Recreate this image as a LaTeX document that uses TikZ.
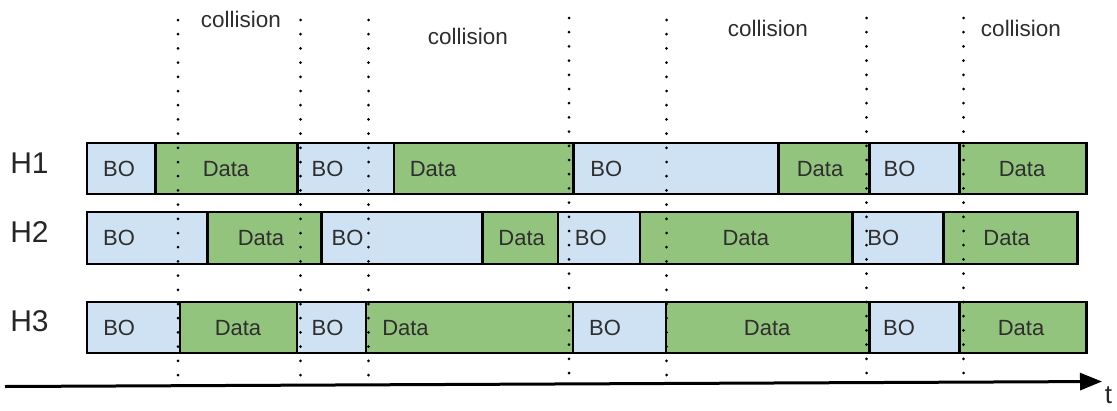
\documentclass[tikz,border=0pt]{standalone}
\usepackage{fontspec}
\setmainfont{Liberation Sans}
\usetikzlibrary{arrows.meta}

\definecolor{boblue}{HTML}{CFE2F3}
\definecolor{datagreen}{HTML}{93C47D}
\definecolor{txtgray}{HTML}{2E2E2E}

\tikzset{every picture/.style={line width=2pt}}
\tikzset{
  bo/.style={draw=black, fill=boblue, line width=2.8pt},
  data/.style={draw=black, fill=datagreen, line width=2.8pt},
  slotline/.style={draw=black, line width=3pt, line cap=round, dash pattern=on 0pt off 14.2pt},
  boxtxt/.style={inner sep=0pt, text=txtgray, font=\fontsize{22}{26}\selectfont},
  coltxt/.style={inner sep=0pt, text=txtgray, font=\fontsize{22.5}{27}\selectfont},
  hosttxt/.style={inner sep=0pt, text=black!85, font=\fontsize{30}{35}\selectfont}
}

\begin{document}
\begin{tikzpicture}[x=1pt,y=1pt,yscale=-1,xscale=1]
\useasboundingbox (0,0) rectangle (1117,410);

%Row H1
\draw [bo] (87,143) rectangle (155.7,194) ;
\draw [data] (155.7,143) rectangle (297.7,194) ;
\draw [bo] (297.7,143) rectangle (394,194) ;
\draw [data] (394,143) rectangle (573.3,194) ;
\draw [bo] (573.3,143) rectangle (778.3,194) ;
\draw [data] (778.3,143) rectangle (869.7,194) ;
\draw [bo] (869.7,143) rectangle (959.3,194) ;
\draw [data] (959.3,143) rectangle (1086.3,194) ;

%Row H2
\draw [bo] (87,212) rectangle (207.7,264) ;
\draw [data] (207.7,212) rectangle (321.7,264) ;
\draw [bo] (321.7,212) rectangle (482.3,264) ;
\draw [data] (482.3,212) rectangle (558,264) ;
\draw [bo] (558,212) rectangle (640,264) ;
\draw [data] (640,212) rectangle (852.7,264) ;
\draw [bo] (852.7,212) rectangle (943.7,264) ;
\draw [data] (943.7,212) rectangle (1077.7,264) ;

%Row H3
\draw [bo] (87,302) rectangle (180,353) ;
\draw [data] (180,302) rectangle (297,353) ;
\draw [bo] (297,302) rectangle (366,353) ;
\draw [data] (366,302) rectangle (573,353) ;
\draw [bo] (573,302) rectangle (666,353) ;
\draw [data] (666,302) rectangle (869.7,353) ;
\draw [bo] (869.7,302) rectangle (959.3,353) ;
\draw [data] (959.3,302) rectangle (1086.3,353) ;

%Dotted slot lines
\coordinate (s1top) at (178,20) ;   \coordinate (s1bot) at (178,376) ;
\coordinate (s2top) at (300.5,20) ; \coordinate (s2bot) at (300.5,376) ;
\coordinate (s3top) at (368.5,20) ; \coordinate (s3bot) at (368.5,376) ;
\coordinate (s4top) at (569,18) ;   \coordinate (s4bot) at (569,374) ;
\coordinate (s5top) at (666.5,20) ; \coordinate (s5bot) at (666.5,376) ;
\coordinate (s6top) at (866.5,18) ; \coordinate (s6bot) at (866.5,374) ;
\coordinate (s7top) at (963.5,18) ; \coordinate (s7bot) at (963.5,374) ;
\draw [slotline] (s1top) -- (s1bot) ;
\draw [slotline] (s2top) -- (s2bot) ;
\draw [slotline] (s3top) -- (s3bot) ;
\draw [slotline] (s4top) -- (s4bot) ;
\draw [slotline] (s5top) -- (s5bot) ;
\draw [slotline] (s6top) -- (s6bot) ;
\draw [slotline] (s7top) -- (s7bot) ;

%Time axis
\coordinate (tstart) at (5,386.5) ;
\coordinate (tend) at (1102,381.5) ;
\draw [line width=3pt, -{Triangle[length=22pt,width=17pt]}] (tstart) -- (tend) ;
\node [inner sep=0pt, text=black!85, font=\fontsize{26}{30}\selectfont] (tlbl) at (1108.5,395) {t};

% Text Node
\node [hosttxt] (h1) at (29.5,163) {H1};
\node [hosttxt] (h2) at (29.5,232) {H2};
\node [hosttxt] (h3) at (29.5,321) {H3};

% Text Node
\node [coltxt] (col1) at (241,19) {collision};
\node [coltxt] (col2) at (468,36) {collision};
\node [coltxt] (col3) at (768,28) {collision};
\node [coltxt] (col4) at (1021,28) {collision};

% Text Node
\node [boxtxt] (h1bo1) at (119,169) {BO};
\node [boxtxt] (h1da1) at (226,169) {Data};
\node [boxtxt] (h1bo2) at (327.5,169) {BO};
\node [boxtxt] (h1da2) at (433,169) {Data};
\node [boxtxt] (h1bo3) at (606.3,169) {BO};
\node [boxtxt] (h1da3) at (820,169) {Data};
\node [boxtxt] (h1bo4) at (899.5,169) {BO};
\node [boxtxt] (h1da4) at (1022,169) {Data};

% Text Node
\node [boxtxt] (h2bo1) at (119,238) {BO};
\node [boxtxt] (h2da1) at (261,238) {Data};
\node [boxtxt] (h2bo2) at (347.5,238) {BO};
\node [boxtxt] (h2da2) at (521.7,238) {Data};
\node [boxtxt] (h2bo3) at (590.8,238) {BO};
\node [boxtxt] (h2da3) at (745.8,238) {Data};
\node [boxtxt] (h2bo4) at (883.3,238) {BO};
\node [boxtxt] (h2da4) at (1006.7,238) {Data};

% Text Node
\node [boxtxt] (h3bo1) at (119.2,328) {BO};
\node [boxtxt] (h3da1) at (238,328) {Data};
\node [boxtxt] (h3bo2) at (327.5,328) {BO};
\node [boxtxt] (h3da2) at (405.5,328) {Data};
\node [boxtxt] (h3bo3) at (605,328) {BO};
\node [boxtxt] (h3da3) at (767.2,328) {Data};
\node [boxtxt] (h3bo4) at (899,328) {BO};
\node [boxtxt] (h3da4) at (1021,328) {Data};

\end{tikzpicture}
\end{document}
